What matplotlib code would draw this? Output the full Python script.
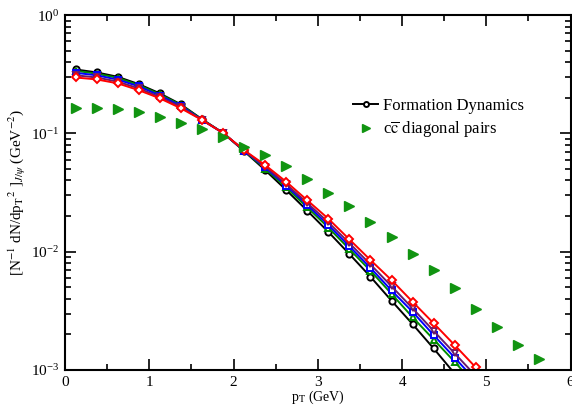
import matplotlib
matplotlib.use('Agg')
from matplotlib import pyplot as plt
from matplotlib.ticker import MultipleLocator, LogLocator, NullFormatter

plt.rcParams['font.family'] = ['Liberation Serif', 'DejaVu Serif']
plt.rcParams['mathtext.fontset'] = 'stix'

# pT bins (GeV)
pt = [0.125, 0.375, 0.625, 0.875, 1.125, 1.375, 1.625, 1.875, 2.125, 2.375,
      2.625, 2.875, 3.125, 3.375, 3.625, 3.875, 4.125, 4.375, 4.625, 4.875]
pt_cc = pt + [5.125, 5.375, 5.625]

# Formation dynamics curves (black, green, blue, purple, red)
black = [0.347, 0.328, 0.301, 0.261, 0.218, 0.176, 0.132, 0.101, 0.0708, 0.049,
         0.0332, 0.0222, 0.0147, 0.00955, 0.00614, 0.00385, 0.00244, 0.00152, 0.00093]
green = [0.338, 0.320, 0.295, 0.256, 0.214, 0.174, 0.131, 0.101, 0.0712, 0.0505,
         0.0349, 0.0237, 0.0160, 0.0105, 0.0069, 0.0044, 0.00279, 0.00181, 0.00117, 0.00074]
blue = [0.325, 0.310, 0.285, 0.250, 0.209, 0.171, 0.130, 0.101, 0.0716, 0.0515,
        0.0362, 0.0248, 0.0168, 0.0111, 0.0073, 0.0047, 0.0031, 0.00197, 0.00127, 0.00081]
purple = [0.310, 0.297, 0.274, 0.240, 0.203, 0.167, 0.130, 0.101, 0.0719, 0.0525,
          0.0372, 0.0258, 0.0177, 0.0118, 0.0078, 0.0051, 0.00332, 0.00214, 0.00138, 0.00089]
red = [0.297, 0.286, 0.265, 0.232, 0.198, 0.163, 0.130, 0.101, 0.0722, 0.054,
       0.039, 0.0272, 0.019, 0.0127, 0.0085, 0.00575, 0.00377, 0.00248, 0.00162, 0.00105]

# c cbar diagonal pairs
cc_diag = [0.164, 0.163, 0.160, 0.151, 0.138, 0.122, 0.109, 0.094, 0.077, 0.0656,
           0.053, 0.0411, 0.0315, 0.0243, 0.0179, 0.0132, 0.00955, 0.00699, 0.0049,
           0.0033, 0.00232, 0.00162, 0.00123]

fig = plt.figure(figsize=(5.72, 4.07), dpi=100)
ax = fig.add_axes([0.1136, 0.0909, 0.884, 0.872])

ms = 4.5
mew = 1.4
ax.plot(pt[:len(black)], black, '-', c='black', lw=1.4, marker='o', ms=ms,
        mfc='white', mec='black', mew=mew, label='Formation Dynamics')
ax.plot(pt, green, '-', c='#008b00', lw=1.4, marker='^', ms=ms,
        mfc='white', mec='#008b00', mew=mew)
ax.plot(pt, blue, '-', c='blue', lw=1.4, marker='s', ms=ms - 0.5,
        mfc='white', mec='blue', mew=mew)
ax.plot(pt, purple, '-', c='#6a1b6a', lw=1.4, marker='v', ms=ms,
        mfc='white', mec='#6a1b6a', mew=mew)
ax.plot(pt, red, '-', c='red', lw=1.4, marker='D', ms=ms - 0.5,
        mfc='white', mec='red', mew=mew)
ax.plot(pt_cc, cc_diag, ls='none', marker='>', ms=7, c='#119411',
        label=r'c$\overline{\rm c}$ diagonal pairs')

ax.set_yscale('log')
ax.set_xlim(0, 6)
ax.set_ylim(1e-3, 1)
ax.xaxis.set_major_locator(MultipleLocator(1))
ax.xaxis.set_minor_locator(MultipleLocator(0.5))
ax.yaxis.set_major_locator(LogLocator(base=10, numticks=10))
ax.yaxis.set_minor_locator(LogLocator(base=10, subs=range(2, 10), numticks=10))
ax.yaxis.set_minor_formatter(NullFormatter())
ax.tick_params(axis='both', which='both', direction='in', top=True, right=True,
               labelsize=11, width=1.2)
ax.tick_params(which='major', length=8, pad=4)
ax.tick_params(which='minor', length=4)
for s in ax.spines.values():
    s.set_linewidth(1.5)

ax.set_xlabel(r'p$_{\rm T}$ (GeV)', fontsize=10, labelpad=0)
ax.set_ylabel(r'[N$^{-1}$ dN/dp$_{\rm T}$$^{2}$ ]$_{J/\psi}$ (GeV$^{-2}$)', fontsize=11, labelpad=2)

ax.legend(loc='upper left', bbox_to_anchor=(0.54, 0.81), frameon=False,
          fontsize=12, handlelength=1.5, handletextpad=0.3, labelspacing=0.4,
          markerscale=0.8)

plt.savefig('out.png', dpi=100)
